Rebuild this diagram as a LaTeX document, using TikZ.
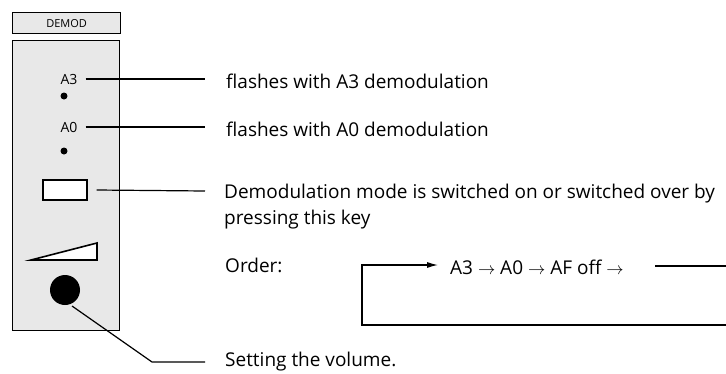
\documentclass[tikz,border=0pt]{standalone}
\usepackage{fontspec}
\setmainfont{Open Sans}
\usetikzlibrary{arrows.meta}
\begin{document}
\begin{tikzpicture}[x=1pt,y=-1pt,
  lbl/.style={anchor=west,inner sep=0pt,font=\fontsize{19}{22}\selectfont},
  lead/.style={line width=1.2pt},
  panel/.style={draw,line width=1.2pt,fill=black!9}]
\useasboundingbox (0,0) rectangle (726,373);
% DEMOD label box
\node[panel,minimum width=108pt,minimum height=21pt,inner sep=0pt,anchor=north west,font=\fontsize{11}{12}\selectfont] (title) at (12,12) {DEMOD};
% panel
\node[panel,minimum width=107pt,minimum height=290pt,anchor=north west,inner sep=0pt] (panel) at (12,40) {};
% LEDs
\node[inner sep=0pt,font=\fontsize{14}{16}\selectfont] (a3) at (69,79) {A3};
\node[circle,fill=black,inner sep=0pt,minimum size=7pt] (d3) at (64,96) {};
\node[inner sep=0pt,font=\fontsize{14}{16}\selectfont] (a0) at (69,127) {A0};
\node[circle,fill=black,inner sep=0pt,minimum size=7pt] (d0) at (64,151) {};
% key
\node[draw,line width=1.2pt,fill=white,minimum width=44pt,minimum height=20pt,inner sep=0pt] (key) at (65,190) {};
% wedge
\draw[line width=1.6pt,fill=white,line join=miter] (31,260) -- (97,243) -- (97,260) -- cycle;
% knob
\node[circle,fill=black,minimum size=30pt,inner sep=0pt] (knob) at (65,290) {};
% labels
\node[lbl] (t1) at (226,81) {flashes with A3 demodulation};
\node[lbl] (t2) at (226,129) {flashes with A0 demodulation};
\node[lbl] (t3) at (224,194) {Demodulation mode is switched on or switched over by};
\node[lbl] (t3b) at (224,220) {pressing this key};
\node[lbl] (ord) at (225,265) {Order:};
\node[lbl] (seq) at (450,267) {A3 \(\rightarrow\) A0 \(\rightarrow\) AF off \(\rightarrow\)};
\node[lbl] (t4) at (225,362) {Setting the volume.};
% leader lines
\coordinate (e1) at (205,79);
\coordinate (e2) at (205,127);
\coordinate (e3) at (205,191);
\draw[lead] (a3.east) ++(8,0) -- (e1);
\draw[lead] (a0.east) ++(8,0) -- (e2);
\draw[lead] (key.east) ++(9,0) -- (e3);
\coordinate (k1) at (72,306);
\coordinate (k2) at (152,362);
\coordinate (k3) at (205,362);
\draw[lead] (k1) -- (k2) -- (k3);
% order loop
\coordinate (l1) at (726,266);
\coordinate (l2) at (655,266);
\coordinate (b1) at (726,325);
\coordinate (b2) at (362,325);
\coordinate (b3) at (362,265);
\coordinate (b4) at (438,265);
\draw[lead] (l2) -- (l1);
\draw[lead,-{Latex[length=11pt,width=6pt]}] (b1) -- (b2) -- (b3) -- (b4);
\end{tikzpicture}
\end{document}
